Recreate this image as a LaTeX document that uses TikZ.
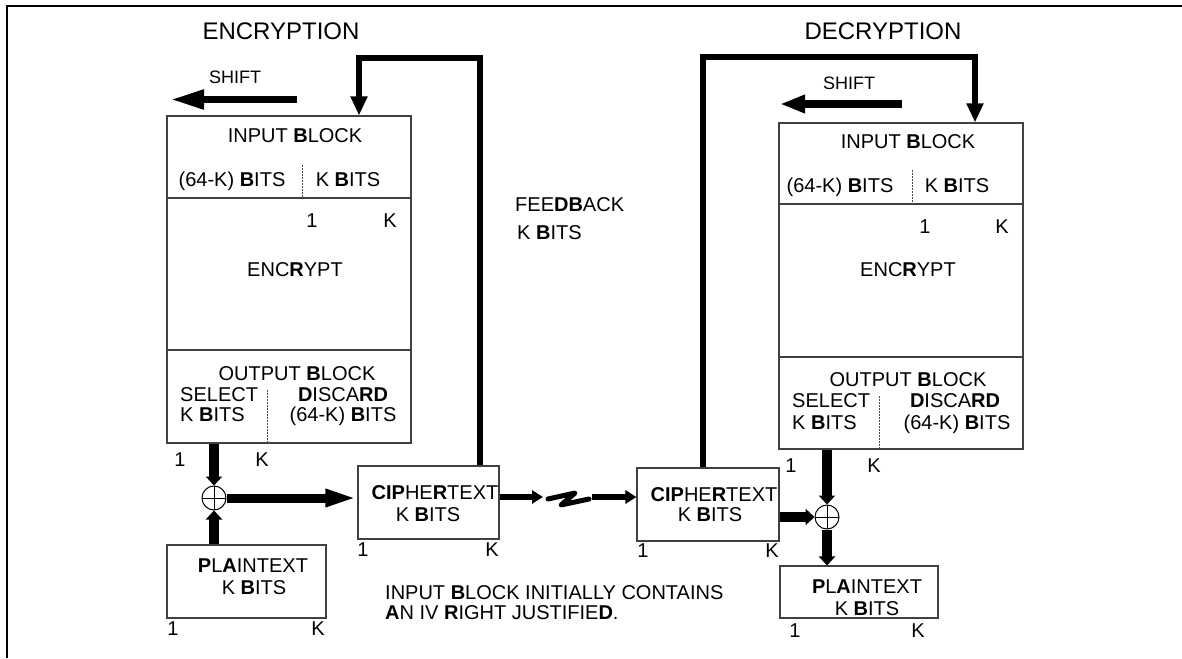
\documentclass[tikz,border=0pt]{standalone}
\usepackage{fontspec}
\setmainfont{Liberation Sans}
\usetikzlibrary{arrows.meta,calc}
\newcommand{\hb}[1]{\textbf{#1}}
\begin{document}
\begin{tikzpicture}[x=1pt,y=-1pt,
  box/.style={draw=black!75,line width=1.1pt,rectangle,inner sep=0pt},
  txt/.style={font=\fontsize{20}{24}\selectfont,inner sep=0pt,text height=14.3pt,text depth=0pt},
  ttl/.style={font=\fontsize{24}{28}\selectfont,inner sep=0pt,text height=17.2pt,text depth=0pt},
  sml/.style={font=\fontsize{18}{22}\selectfont,inner sep=0pt,text height=12.9pt,text depth=0pt},
  divline/.style={draw=black!75,line width=1.1pt},
  dotline/.style={draw=black!70,line width=0.8pt,dash pattern=on 1.5pt off 1.5pt},
  xorc/.style={circle,draw=black,line width=1pt,minimum size=24pt,inner sep=0pt,
    path picture={\draw[line width=0.8pt] (path picture bounding box.north) -- (path picture bounding box.south)
      (path picture bounding box.west) -- (path picture bounding box.east);}},
  fatarr/.style={line width=10pt,-{Triangle[length=9pt,width=16pt]}},
  longarr/.style={line width=9pt,-{Triangle[length=32pt,width=16pt]}},
  fbarr/.style={line width=6.5pt,line join=miter,-{Triangle[length=19pt,width=16pt]}},
  shiftarr/.style={line width=7.5pt,-{Triangle[length=34pt,width=18pt]}},
  shiftarrR/.style={line width=7.5pt,-{Triangle[length=25pt,width=17pt]}},
  midarr/.style={line width=6pt,-{Triangle[length=11pt,width=13pt]}},
  zig/.style={line width=5pt,line join=round,line cap=round}
]
\useasboundingbox (0,0) rectangle (1182,658);
% frame
\draw[line width=2pt] (7,658) -- (7,6) -- (1182,6);

% ===== ENCRYPTION =====
\node[ttl] (titleE) at (281,31) {ENCRYPTION};
\node[sml] (shiftLt) at (235,77.5) {SHIFT};
\coordinate (shL1) at (297,99.5);
\coordinate (shL2) at (170,99.5);
\draw[shiftarr] (shL1) -- (shL2);

\node[box,minimum width=244pt,minimum height=327pt] (encL) at (289,279.5) {};
\draw[divline] (167,198) -- (411,198);
\draw[divline] (167,350) -- (411,350);
\draw[dotline] (302,165) -- (302,198);
\draw[dotline] (267,390) -- (267,443);
\node[txt] (eL1) at (295,135) {INPUT \hb{B}LOCK};
\node[txt] (eL2) at (232,179) {(64-K) \hb{B}ITS};
\node[txt] (eL3) at (348,179) {K \hb{B}ITS};
\node[txt] (eL4) at (312,220) {1};
\node[txt] (eL5) at (390,220) {K};
\node[txt] (eL6) at (295,269) {ENC\hb{R}YPT};
\node[txt] (eL7) at (297,373) {OUTPUT \hb{B}LOCK};
\node[txt,anchor=west] (eL8) at (180,394) {SELECT};
\node[txt,anchor=west] (eL9) at (180,414) {K \hb{B}ITS};
\node[txt] (eL10) at (343,394) {\hb{D}ISCA\hb{RD}};
\node[txt] (eL11) at (343,414) {(64-K) \hb{B}ITS};
\node[txt] (eL12) at (180,459) {1};
\node[txt] (eL13) at (262,459) {K};

\node[xorc] (xorL) at (214,498) {};
\node[box,minimum width=141pt,minimum height=73pt] (ctL) at (428.5,502.5) {};
\node[txt] (cL1) at (435,492) {\hb{CIP}HE\hb{R}TEXT};
\node[txt] (cL2) at (428,514) {K \hb{B}ITS};
\node[txt] (cL3) at (363,549) {1};
\node[txt] (cL4) at (492,549) {K};

\node[box,minimum width=159pt,minimum height=73pt] (ptL) at (246.5,581.5) {};
\node[txt] (pL1) at (253,565) {\hb{P}L\hb{A}INTEXT};
\node[txt] (pL2) at (254,587) {K \hb{B}ITS};
\node[txt] (pL3) at (173,628) {1};
\node[txt] (pL4) at (318,628) {K};

\draw[fatarr] (encL.south -| xorL) -- (xorL.north);
\draw[fatarr] (ptL.north -| xorL) -- (xorL.south);
\draw[longarr] (xorL.east) -- (ctL.west |- xorL);

\coordinate (f1) at (480,58);
\coordinate (f2) at (359,58);
\draw[fbarr] (ctL.north -| f1) -- (f1) -- (f2) -- (encL.north -| f2);

\node[txt,anchor=west] (fb1) at (515,204) {FEE\hb{DB}ACK};
\node[txt,anchor=west] (fb2) at (517,232) {K \hb{B}ITS};

\node[txt,anchor=west] (n1) at (385,592) {INPUT \hb{B}LOCK INITIALLY CONTAINS};
\node[txt,anchor=west] (n2) at (385,612) {\hb{A}N IV \hb{R}IGHT JUSTIFIE\hb{D}.};

% ===== channel =====
\coordinate (zA) at (543,497);
\coordinate (z1) at (548,499);
\coordinate (z2) at (575,493);
\coordinate (z3) at (561,505);
\coordinate (z4) at (589,499);
\coordinate (zB) at (592,497);
\draw[midarr] (ctL.east |- zA) -- (zA);
\draw[zig] (z1) -- (z2) -- (z3) -- (z4);

% ===== DECRYPTION =====
\node[ttl] (titleD) at (883,31) {DECRYPTION};
\node[sml] (shiftRt) at (849,83) {SHIFT};
\coordinate (shR1) at (902,104);
\coordinate (shR2) at (780,104);
\draw[shiftarrR] (shR1) -- (shR2);

\node[box,minimum width=244pt,minimum height=326pt] (encR) at (901,286) {};
\draw[divline] (779,204) -- (1023,204);
\draw[divline] (779,357) -- (1023,357);
\draw[dotline] (912,170) -- (912,204);
\draw[dotline] (879,396) -- (879,449);
\node[txt] (eR1) at (908,141) {INPUT \hb{B}LOCK};
\node[txt] (eR2) at (840,185) {(64-K) \hb{B}ITS};
\node[txt] (eR3) at (957,185) {K \hb{B}ITS};
\node[txt] (eR4) at (925,226) {1};
\node[txt] (eR5) at (1002,226) {K};
\node[txt] (eR6) at (908,269) {ENC\hb{R}YPT};
\node[txt] (eR7) at (908,379) {OUTPUT \hb{B}LOCK};
\node[txt,anchor=west] (eR8) at (792,400) {SELECT};
\node[txt,anchor=west] (eR9) at (792,422) {K \hb{B}ITS};
\node[txt] (eR10) at (955,400) {\hb{D}ISCA\hb{RD}};
\node[txt] (eR11) at (957,422) {(64-K) \hb{B}ITS};
\node[txt] (eR12) at (791,465) {1};
\node[txt] (eR13) at (874,465) {K};

\node[box,minimum width=142pt,minimum height=73pt] (ctR) at (708,504.5) {};
\node[txt] (cR1) at (714,494) {\hb{CIP}HE\hb{R}TEXT};
\node[txt] (cR2) at (710,514) {K \hb{B}ITS};
\node[txt] (cR3) at (643,550) {1};
\node[txt] (cR4) at (772,550) {K};

\node[xorc] (xorR) at (827,517) {};
\node[box,minimum width=158pt,minimum height=52pt] (ptR) at (859,592) {};
\node[txt] (pR1) at (867,586) {\hb{P}L\hb{A}INTEXT};
\node[txt] (pR2) at (867,608) {K \hb{B}ITS};
\node[txt] (pR3) at (795,630) {1};
\node[txt] (pR4) at (918,630) {K};

\draw[midarr] (zB) -- (ctR.west |- zB);

\draw[fatarr] (encR.south -| xorR) -- (xorR.north);
\draw[fatarr] (ctR.east |- xorR) -- (xorR.west);
\draw[fatarr] (xorR.south) -- (ptR.north -| xorR);

\coordinate (g1) at (703,57);
\coordinate (g2) at (975,57);
\draw[fbarr] (ctR.north -| g1) -- (g1) -- (g2) -- (encR.north -| g2);
\end{tikzpicture}
\end{document}
